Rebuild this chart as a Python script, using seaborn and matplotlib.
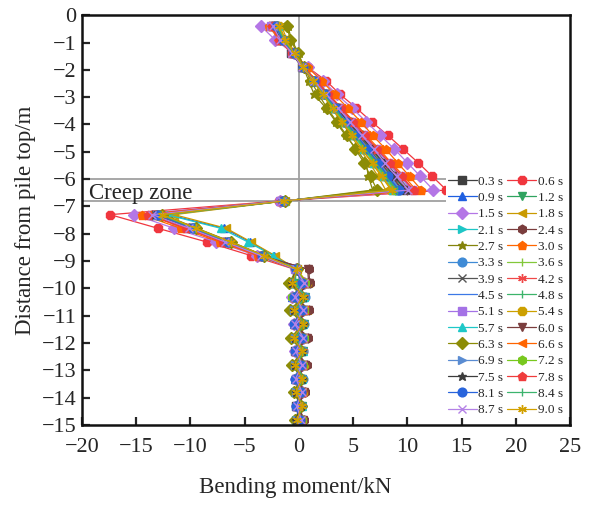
import matplotlib
matplotlib.use("Agg")
import matplotlib.pyplot as plt
import seaborn as sns
import pandas as pd

# ---------------- data ----------------
depth = [-0.4, -0.9, -1.4, -1.9, -2.4, -2.9, -3.4, -3.9, -4.4, -4.9, -5.4, -5.9, -6.4,
         -6.8, -7.3, -7.8, -8.3, -8.8, -9.3, -9.8, -10.3, -10.8, -11.3, -11.8, -12.3,
         -12.8, -13.3, -13.8, -14.3, -14.8]

labels = ["0.3 s", "0.6 s", "0.9 s", "1.2 s", "1.5 s", "1.8 s", "2.1 s", "2.4 s", "2.7 s", "3.0 s",
          "3.3 s", "3.6 s", "3.9 s", "4.2 s", "4.5 s", "4.8 s", "5.1 s", "5.4 s", "5.7 s", "6.0 s",
          "6.3 s", "6.6 s", "6.9 s", "7.2 s", "7.5 s", "7.8 s", "8.1 s", "8.4 s", "8.7 s", "9.0 s"]

m_03 = [-2.4, -1.7, -0.7, 0.3, 1.3, 2.4, 3.4, 4.4, 5.4, 6.4, 7.4, 8.5, 9.5,
        -1.6, -13.2, -9.9, -6.7, -3.5, -0.3, 0.6, -0.5, 0.5, -0.4, 0.5, -0.4, 0.4, -0.3, 0.3, -0.3, 0.2]
m_06 = [-2.6, -1.9, -0.6, 0.8, 2.5, 3.8, 5.3, 6.7, 8.2, 9.6, 11.0, 12.3, 13.6,
        -1.8, -17.4, -13.0, -8.5, -4.4, -0.4, -0.6, 0.5, -0.5, 0.4, -0.4, 0.4, -0.3, 0.3, -0.3, 0.2, -0.2]
m_09 = [-2.0, -1.4, -0.5, 0.4, 1.4, 2.3, 3.3, 4.2, 5.2, 6.1, 7.1, 8.0, 9.0,
        -1.4, -12.0, -6.9, -4.5, -2.3, -0.3, 0.7, -0.6, 0.6, -0.5, 0.5, -0.4, 0.4, -0.4, 0.3, -0.3, 0.3]
m_12 = [-2.2, -1.6, -0.6, 0.3, 1.4, 2.4, 3.5, 4.5, 5.6, 6.6, 7.7, 8.7, 9.8,
        -1.5, -13.0, -9.8, -6.5, -3.4, -0.2, -0.5, 0.6, -0.5, 0.5, -0.4, 0.4, -0.4, 0.3, -0.3, 0.3, -0.2]
m_15 = [-3.5, -2.2, -0.5, 0.8, 2.2, 3.5, 4.9, 6.2, 7.5, 8.8, 10.0, 11.2, 12.4,
        -1.7, -15.2, -11.5, -7.6, -3.9, -0.3, 0.5, -0.6, 0.4, -0.5, 0.4, -0.4, 0.3, -0.3, 0.3, -0.2, 0.2]
m_18 = [-1.6, -1.1, -0.3, 0.4, 1.3, 2.2, 3.0, 3.9, 4.8, 5.6, 6.5, 7.3, 8.0,
        -1.3, -11.5, -6.7, -4.4, -2.2, -0.2, 0.8, -0.5, 0.7, -0.4, 0.6, -0.4, 0.5, -0.3, 0.4, -0.3, 0.3]
m_21 = [-2.1, -1.5, -0.5, 0.4, 1.4, 2.4, 3.4, 4.4, 5.3, 6.3, 7.3, 8.2, 9.2,
        -1.5, -12.8, -9.6, -6.4, -3.3, -0.3, -0.7, 0.5, -0.6, 0.4, -0.5, 0.4, -0.4, 0.3, -0.4, 0.3, -0.3]
m_24 = [-2.3, -1.7, -0.6, 0.3, 1.4, 2.5, 3.6, 4.7, 5.8, 6.8, 7.9, 9.0, 10.0,
        -1.6, -13.5, -10.1, -6.8, -3.5, 0.9, 1.0, -0.3, 0.9, -0.3, 0.8, -0.2, 0.7, -0.2, 0.6, -0.1, 0.5]
m_27 = [-1.0, -0.7, 0.0, 0.4, 0.9, 1.4, 2.5, 3.4, 4.3, 5.3, 6.2, 6.4, 6.8,
        -1.3, -12.5, -9.4, -6.2, -3.2, -0.2, -0.8, 0.4, -0.7, 0.3, -0.6, 0.3, -0.5, 0.2, -0.4, 0.2, -0.3]
m_30 = [-2.8, -1.8, -0.5, 0.8, 2.1, 3.3, 4.5, 5.7, 6.8, 8.0, 9.1, 10.2, 11.3,
        -1.7, -14.5, -10.9, -7.3, -3.8, -0.3, 0.6, -0.5, 0.5, -0.5, 0.4, -0.4, 0.4, -0.3, 0.3, -0.3, 0.2]
m_33 = [-2.0, -1.5, -0.5, 0.4, 1.4, 2.3, 3.3, 4.2, 5.2, 6.1, 7.1, 8.0, 9.0,
        -1.5, -13.0, -9.8, -6.5, -3.4, -0.3, -0.6, 0.6, -0.5, 0.5, -0.5, 0.4, -0.4, 0.4, -0.3, 0.3, -0.3]
m_36 = [-1.9, -1.3, -0.4, 0.4, 1.3, 2.3, 3.2, 4.1, 5.1, 6.0, 6.9, 7.9, 8.8,
        -1.4, -12.8, -9.6, -6.4, -3.3, -0.2, 0.5, -0.7, 0.4, -0.6, 0.4, -0.5, 0.3, -0.4, 0.3, -0.3, 0.2]
m_39 = [-2.4, -1.8, -0.6, 0.3, 1.4, 2.5, 3.7, 4.8, 5.9, 7.0, 8.0, 9.1, 10.2,
        -1.6, -13.6, -10.2, -6.8, -3.5, -0.3, 0.6, -0.4, 0.5, -0.4, 0.5, -0.3, 0.4, -0.3, 0.3, -0.2, 0.3]
m_42 = [-2.5, -1.8, -0.6, 0.4, 1.6, 2.7, 3.8, 4.9, 6.0, 7.1, 8.3, 9.4, 10.5,
        -1.6, -13.8, -10.4, -7.0, -3.6, -0.3, -0.5, 0.5, -0.4, 0.4, -0.4, 0.4, -0.3, 0.3, -0.3, 0.2, -0.2]
m_45 = [-2.2, -1.6, -0.5, 0.3, 1.3, 2.3, 3.3, 4.3, 5.3, 6.3, 7.3, 8.3, 9.3,
        -1.5, -13.0, -9.8, -6.6, -3.4, -0.3, 0.4, -0.6, 0.4, -0.5, 0.3, -0.5, 0.3, -0.4, 0.2, -0.3, 0.2]
m_48 = [-2.1, -1.5, -0.5, 0.4, 1.4, 2.3, 3.3, 4.3, 5.2, 6.2, 7.2, 8.1, 9.1,
        -1.5, -12.9, -9.7, -6.5, -3.3, -0.3, -0.4, 0.6, -0.4, 0.5, -0.4, 0.4, -0.3, 0.4, -0.3, 0.3, -0.2]
m_51 = [-2.6, -1.9, -0.6, 0.4, 1.5, 2.6, 3.7, 4.8, 5.9, 7.1, 8.2, 9.3, 10.4,
        -1.7, -13.6, -10.2, -6.8, -3.5, -0.4, 0.5, -0.5, 0.4, -0.4, 0.4, -0.3, 0.3, -0.3, 0.3, -0.2, 0.2]
m_54 = [-1.8, -1.2, -0.4, 0.4, 1.3, 2.2, 3.1, 4.0, 4.9, 5.8, 6.7, 7.6, 8.5,
        -1.4, -12.7, -9.5, -6.4, -3.3, -0.2, 0.7, -0.4, 0.6, -0.4, 0.5, -0.3, 0.5, -0.3, 0.4, -0.2, 0.3]
m_57 = [-1.9, -1.3, -0.4, 0.4, 1.3, 2.2, 3.2, 4.1, 5.0, 6.0, 6.9, 7.8, 8.7,
        -1.4, -12.2, -7.2, -4.7, -2.4, -0.3, -0.7, 0.5, -0.6, 0.4, -0.5, 0.4, -0.4, 0.3, -0.4, 0.3, -0.3]
m_60 = [-2.2, -1.6, -0.6, 0.3, 1.3, 2.4, 3.4, 4.5, 5.5, 6.5, 7.5, 8.6, 9.6,
        -1.5, -13.3, -10.0, -6.7, -3.4, 0.8, 0.9, -0.2, 0.8, -0.3, 0.7, -0.2, 0.6, -0.2, 0.5, -0.1, 0.4]
m_63 = [-1.1, -0.8, -0.1, 0.5, 1.1, 1.8, 2.6, 3.5, 4.4, 5.2, 6.0, 6.6, 7.2,
        -1.3, -12.6, -9.5, -6.3, -3.2, -0.2, -0.9, 0.3, -0.8, 0.3, -0.7, 0.2, -0.6, 0.2, -0.5, 0.2, -0.4]
m_66 = [-2.6, -1.9, -0.6, 0.5, 1.6, 2.8, 3.9, 5.1, 6.2, 7.4, 8.5, 9.7, 10.8,
        -1.7, -14.0, -10.5, -7.0, -3.7, -0.3, 0.5, -0.5, 0.5, -0.4, 0.4, -0.4, 0.3, -0.3, 0.3, -0.2, 0.2]
m_69 = [-2.2, -1.6, -0.5, 0.4, 1.4, 2.4, 3.4, 4.4, 5.4, 6.4, 7.4, 8.4, 9.4,
        -1.5, -13.1, -9.8, -6.6, -3.4, -0.3, -0.5, 0.5, -0.5, 0.4, -0.4, 0.4, -0.4, 0.3, -0.3, 0.3, -0.2]
m_72 = [-2.0, -1.4, -0.4, 0.4, 1.3, 2.3, 3.2, 4.2, 5.1, 6.1, 7.0, 8.0, 8.9,
        -1.4, -12.9, -9.7, -6.5, -3.3, -0.2, 0.6, -0.6, 0.5, -0.5, 0.5, -0.4, 0.4, -0.4, 0.3, -0.3, 0.3]
m_75 = [-2.3, -1.7, -0.6, 0.3, 1.4, 2.5, 3.5, 4.6, 5.7, 6.7, 7.8, 8.8, 9.9,
        -1.6, -13.4, -10.0, -6.7, -3.5, -0.3, -0.6, 0.4, -0.5, 0.4, -0.4, 0.3, -0.4, 0.3, -0.3, 0.2, -0.3]
m_78 = [-2.5, -1.8, -0.6, 0.4, 1.6, 2.7, 3.9, 5.0, 6.1, 7.2, 8.4, 9.5, 10.6,
        -1.6, -13.9, -10.4, -7.0, -3.6, -0.3, 0.4, -0.5, 0.4, -0.4, 0.3, -0.4, 0.3, -0.3, 0.3, -0.2, 0.2]
m_81 = [-2.1, -1.5, -0.5, 0.4, 1.4, 2.4, 3.4, 4.3, 5.3, 6.3, 7.3, 8.2, 9.2,
        -1.5, -13.0, -9.8, -6.5, -3.4, -0.3, 0.3, -0.5, 0.3, -0.5, 0.3, -0.4, 0.2, -0.4, 0.2, -0.3, 0.1]
m_84 = [-2.0, -1.4, -0.5, 0.4, 1.4, 2.3, 3.3, 4.2, 5.2, 6.1, 7.1, 8.0, 9.0,
        -1.5, -12.8, -9.6, -6.4, -3.3, -0.3, -0.3, 0.6, -0.3, 0.5, -0.3, 0.4, -0.2, 0.4, -0.2, 0.3, -0.1]
m_87 = [-2.4, -1.7, -0.6, 0.3, 1.4, 2.5, 3.6, 4.7, 5.8, 6.9, 7.9, 9.0, 10.1,
        -1.6, -13.5, -10.1, -6.8, -3.5, -0.3, 0.5, -0.4, 0.4, -0.4, 0.4, -0.3, 0.3, -0.3, 0.3, -0.2, 0.2]
m_90 = [-1.8, -1.3, -0.4, 0.4, 1.3, 2.2, 3.1, 4.0, 4.9, 5.8, 6.8, 7.7, 8.6,
        -1.4, -12.6, -9.5, -6.3, -3.2, -0.2, -0.6, 0.4, -0.5, 0.4, -0.5, 0.3, -0.4, 0.3, -0.3, 0.3, -0.2]

series = [m_03, m_06, m_09, m_12, m_15, m_18, m_21, m_24, m_27, m_30,
          m_33, m_36, m_39, m_42, m_45, m_48, m_51, m_54, m_57, m_60,
          m_63, m_66, m_69, m_72, m_75, m_78, m_81, m_84, m_87, m_90]

xticks = [-20, -15, -10, -5, 0, 5, 10, 15, 20, 25]
yticks = [0, -1, -2, -3, -4, -5, -6, -7, -8, -9, -10, -11, -12, -13, -14, -15]
creep_top, creep_bottom = -6.0, -6.8

# ---------------- styles ----------------
colors = ["#3f3f3f", "#f0363e", "#1f5fe0", "#2fa35f", "#b476e6", "#c99a00", "#1ec6c6", "#7a3d3d",
          "#84840c", "#ff6600", "#3f8bd6", "#83c83a", "#555555", "#f04848", "#3c78e6", "#3cb46a",
          "#a472e6", "#cca000", "#1ec8c8", "#7a3d3d", "#8c8c06", "#ff6400", "#5a8cd2", "#78c81e",
          "#3c3c3c", "#f03c3c", "#2864dc", "#3cb46e", "#b482e6", "#d2a000"]
ast = (6, 2, 0)
markers = ["s", "8", "^", "v", "D", "<", ">", "h", "*", "p",
           "o", "|", "x", ast, "", "|", "s", "8", "^", "v",
           "D", "<", ">", "h", "*", "p", "o", "|", "x", ast]

sns.set_style("ticks")
plt.rcParams["font.family"] = ["Liberation Serif", "DejaVu Serif"]

fig = plt.figure(figsize=(5.92, 5.07), dpi=100)
ax = fig.add_axes([0.1385, 0.1617, 0.8245, 0.8083])

ax.axvline(0, color="#a0a0a0", lw=1.3, zorder=0)
ax.hlines([creep_top, creep_bottom], -20, 13.9, color="#a0a0a0", lw=1.3, zorder=0)

for lab, vals, col, mk in zip(labels, series, colors, markers):
    df = pd.DataFrame({"moment": vals, "depth": depth})
    kw = dict(marker=mk if mk != "" else None, markersize=6.3,
              markeredgecolor=col, markerfacecolor=col, markeredgewidth=1.0)
    sns.lineplot(data=df, x="moment", y="depth", sort=False, estimator=None,
                 color=col, lw=0.9, ax=ax, label=lab, **kw)

ax.set_xlim(-20, 25)
ax.set_ylim(-15, 0)
ax.set_xticks(xticks)
ax.set_yticks(yticks)
ax.tick_params(direction="in", length=6, width=1.6, labelsize=16,
               top=False, right=False)
ax.tick_params(axis="x", pad=9)
ax.tick_params(axis="y", pad=4)
for s in ax.spines.values():
    s.set_linewidth(1.8)
    s.set_color("#111111")

ax.set_xlabel("Bending moment/kN", fontsize=16.5)
ax.xaxis.set_label_coords(0.437, -0.127)
ax.set_ylabel("Distance from pile top/m", fontsize=16.5, labelpad=4)

ax.text(-19.4, -6.72, "Creep zone", fontsize=16.5, ha="left", va="baseline", zorder=5)

handles, labs = ax.get_legend_handles_labels()
order = list(range(0, 30, 2)) + list(range(1, 30, 2))
leg = ax.legend([handles[i] for i in order], [labs[i] for i in order],
                ncol=2, loc="upper left", bbox_to_anchor=(0.745, 0.614),
                fontsize=9.5, frameon=True, framealpha=1, facecolor="white",
                edgecolor="none", borderpad=0.15, borderaxespad=0,
                handlelength=2.2, handletextpad=0.1, columnspacing=0.3,
                labelspacing=0.31, markerscale=1.0)
leg.set_zorder(10)

fig.savefig("out.png", dpi=100)
